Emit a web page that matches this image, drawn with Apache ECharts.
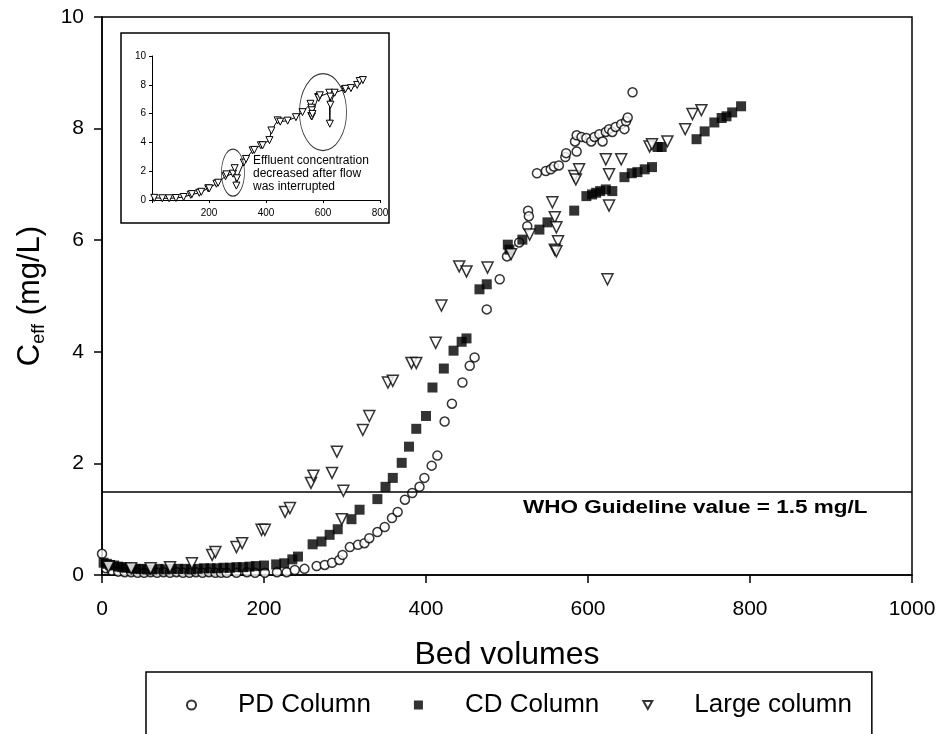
<!DOCTYPE html>
<html><head><meta charset="utf-8">
<script src="https://cdn.jsdelivr.net/npm/echarts@6/dist/echarts.min.js"></script>
<style>html,body{margin:0;padding:0;background:#fff}#c{width:945px;height:734px}</style>
</head><body><div id="c"></div>
<script>
// ---------- data ----------
const seriesNames = ['PD Column', 'CD Column', 'Large column'];
const xTicks = [0, 200, 400, 600, 800, 1000];
const yTicks = [0, 2, 4, 6, 8, 10];
const whoGuideline = 1.5;

const pdBV = [0,5,12,20,28,36,44,52,60,68,76,84,92,100,108,116,124,132,140,147,
  154,166,179,189,201,216,228,238,250,265,275,284,293,297,306,316,324,330,340,349,358,365,374,383,392,398,407,414,423,432,445,454,460,475,
  491,500,515,525,526,527,537,548,554,558,564,572,573,584,586,586,592,598,604,608,614,618,622,626,630,634,641,645,647,649,655];
const pdCeff = [0.38,0.12,0.08,0.06,0.05,0.05,0.04,0.04,0.05,0.04,0.05,0.04,0.05,0.04,0.04,0.05,0.04,0.05,0.04,0.04,
  0.04,0.04,0.05,0.04,0.04,0.05,0.05,0.09,0.11,0.16,0.18,0.22,0.27,0.36,0.50,0.54,0.57,0.66,0.77,0.86,1.02,1.13,1.35,1.47,1.58,1.74,1.96,2.14,2.75,3.07,3.45,3.75,3.90,4.76,
  5.30,5.71,5.96,6.25,6.53,6.43,7.20,7.24,7.27,7.32,7.34,7.49,7.56,7.77,7.59,7.88,7.85,7.83,7.77,7.85,7.90,7.77,7.94,7.99,7.94,8.03,8.08,7.99,8.13,8.20,8.65];

const cdBV = [2,6,10,15,20,25,30,36,42,48,55,62,70,78,86,94,102,110,118,126,134,142,150,158,166,174,182,190,200,215,225,235,242,
  260,271,281,291,308,318,340,350,359,370,379,388,400,408,422,434,444,450,466,475,
  501,503,519,540,550,583,598,605,610,615,622,630,645,654,661,670,679,686,691,734,744,756,765,771,778,789];
const cdCeff = [0.22,0.20,0.18,0.17,0.15,0.14,0.13,0.12,0.11,0.11,0.10,0.10,0.11,0.10,0.11,0.11,0.11,0.10,0.11,0.12,0.12,0.12,0.13,0.13,0.14,0.14,0.15,0.16,0.17,0.19,0.21,0.28,0.33,
  0.55,0.60,0.72,0.82,1.00,1.17,1.36,1.58,1.74,2.01,2.30,2.62,2.85,3.36,3.70,4.02,4.18,4.24,5.12,5.21,
  5.92,5.83,6.01,6.19,6.32,6.53,6.79,6.82,6.85,6.88,6.91,6.88,7.13,7.20,7.22,7.27,7.31,7.67,7.67,7.81,7.95,8.11,8.19,8.22,8.29,8.40];

const largeBV = [8,36,60,84,111,136,140,166,173,197,201,226,232,258,261,284,290,296,298,322,330,353,359,382,388,412,419,441,450,476,
  505,528,556,559,561,563,559,561,583,585,589,622,626,626,624,641,676,679,698,720,729,740];
const largeCeff = [0.15,0.12,0.12,0.14,0.21,0.36,0.41,0.50,0.57,0.81,0.81,1.13,1.20,1.65,1.78,1.83,2.21,1.00,1.51,2.60,2.85,3.45,3.48,3.80,3.80,4.16,4.83,5.53,5.44,5.51,
  5.75,6.10,6.68,6.41,6.23,5.98,5.83,5.80,7.15,7.09,7.27,7.45,7.18,6.62,5.30,7.45,7.68,7.72,7.77,7.99,8.26,8.33];

// inset annotations (ellipse centres in inset data units)
const insetXTicks = [0, 200, 400, 600, 800];
const insetYTicks = [0, 2, 4, 6, 8, 10];
const ellipseCentres = [[284, 1.9], [600, 6.1]];
const insetNote = ['Effluent concentration', 'decreased after flow', 'was interrupted'];

// ---------- build ----------
const zip = (xs, ys) => xs.map((x, i) => [x, ys[i]]);
const pd = zip(pdBV, pdCeff);
const cd = zip(cdBV, cdCeff);
const large = zip(largeBV, largeCeff);
const largeSorted = large.map((p, i) => [p, i]).sort((a, b) => a[0][0] - b[0][0] || a[1] - b[1]).map(p => p[0]);

const FONT = "'Liberation Sans', Arial, sans-serif";
const DOWN_TRIANGLE = 'path://M0,0L10,0L5,9Z';
const chart = echarts.init(document.getElementById('c'), null, {renderer: 'canvas'});
const plain = v => String(v);

const option = {
  animation: false,
  backgroundColor: '#fff',
  textStyle: {fontFamily: FONT, color: '#000'},
  grid: [
    {left: 102, top: 17, width: 810, height: 558, show: true, borderColor: '#000', borderWidth: 1.5, containLabel: false, outerBoundsMode: 'none'},
    {left: 152, top: 56, width: 228, height: 144, show: false, containLabel: false, outerBoundsMode: 'none'}
  ],
  xAxis: [
    {type: 'value', gridIndex: 0, min: xTicks[0], max: xTicks[xTicks.length - 1], interval: 200,
     name: 'Bed volumes', nameLocation: 'middle', nameGap: 64,
     nameTextStyle: {fontSize: 32, fontFamily: FONT, color: '#000'},
     axisLine: {show: true, onZero: false, lineStyle: {color: '#000', width: 1.5}},
     axisTick: {show: true, inside: false, length: 8, lineStyle: {color: '#000', width: 1.5}},
     axisLabel: {fontSize: 21, fontFamily: FONT, color: '#000', margin: 24, formatter: plain},
     splitLine: {show: false}},
    {type: 'value', gridIndex: 1, min: insetXTicks[0], max: insetXTicks[insetXTicks.length - 1], interval: 200,
     axisLine: {show: true, onZero: false, lineStyle: {color: '#000', width: 1}},
     axisTick: {show: true, length: 3, lineStyle: {color: '#000', width: 1}},
     axisLabel: {fontSize: 10, fontFamily: FONT, color: '#000', margin: 8, formatter: v => v === 0 ? '' : String(v)},
     splitLine: {show: false}}
  ],
  yAxis: [
    {type: 'value', gridIndex: 0, min: yTicks[0], max: yTicks[yTicks.length - 1], interval: 2,
     name: '{c|C}{s|eff}{c| (mg/L)}', nameLocation: 'middle', nameGap: 54,
     nameTextStyle: {rich: {
       c: {fontSize: 31, fontFamily: FONT, color: '#000', lineHeight: 36, verticalAlign: 'middle'},
       s: {fontSize: 18, fontFamily: FONT, color: '#000', lineHeight: 18, verticalAlign: 'bottom'}
     }},
     axisLine: {show: true, onZero: false, lineStyle: {color: '#000', width: 1.5}},
     axisTick: {show: true, inside: false, length: 8, lineStyle: {color: '#000', width: 1.5}},
     axisLabel: {fontSize: 21, fontFamily: FONT, color: '#000', margin: 18, formatter: plain},
     splitLine: {show: false}},
    {type: 'value', gridIndex: 1, min: insetYTicks[0], max: insetYTicks[insetYTicks.length - 1], interval: 2,
     axisLine: {show: true, onZero: false, lineStyle: {color: '#000', width: 1}},
     axisTick: {show: true, length: 3, lineStyle: {color: '#000', width: 1}},
     axisLabel: {fontSize: 10, fontFamily: FONT, color: '#000', margin: 6},
     splitLine: {show: false}}
  ],
  legend: {
    data: [
      {name: seriesNames[0], icon: 'circle'},
      {name: seriesNames[1], icon: 'rect'},
      {name: seriesNames[2], icon: DOWN_TRIANGLE}
    ],
    left: 146, top: 672,
    orient: 'horizontal',
    padding: [20, 20, 22, 40],
    itemWidth: 9, itemHeight: 9, itemGap: 43,
    borderColor: '#000', borderWidth: 1.5, borderRadius: 0,
    formatter: name => '{g|}' + name,
    textStyle: {fontSize: 26, fontFamily: FONT, color: '#000', rich: {g: {width: 37}}},
    selectedMode: false
  },
  graphic: [
    {type: 'rect', z: 0, shape: {x: 121, y: 33, width: 268, height: 190},
     style: {fill: '#fff', stroke: '#000', lineWidth: 1.5}},
    {type: 'text', z: 10, x: 523, y: 499, scaleX: 1.25, scaleY: 1,
     style: {text: 'WHO Guideline value = 1.5 mg/L', font: 'bold 18px ' + FONT, fill: '#000'}},
    {type: 'text', z: 10, x: 253, y: 154,
     style: {text: insetNote.join('\n'), font: '12px ' + FONT, fill: '#000', lineHeight: 13}}
  ],
  series: [
    {name: seriesNames[0], type: 'scatter', xAxisIndex: 0, yAxisIndex: 0, data: pd, z: 3,
     symbol: 'circle', symbolSize: 9,
     itemStyle: {color: '#fff', borderColor: '#000', borderWidth: 1.5},
     markLine: {silent: true, symbol: 'none', label: {show: false},
       lineStyle: {color: '#000', width: 1.5, type: 'solid'},
       data: [{yAxis: whoGuideline}]}},
    {name: seriesNames[1], type: 'scatter', xAxisIndex: 0, yAxisIndex: 0, data: cd, z: 4,
     symbol: 'rect', symbolSize: 10,
     itemStyle: {color: '#000', borderColor: '#000', borderWidth: 0}},
    {name: seriesNames[2], type: 'scatter', xAxisIndex: 0, yAxisIndex: 0, data: large, z: 5,
     symbol: 'triangle', symbolRotate: 180, symbolSize: 11,
     itemStyle: {color: '#fff', borderColor: '#000', borderWidth: 1.5}},
    {name: 'inset', type: 'line', xAxisIndex: 1, yAxisIndex: 1, data: largeSorted, z: 6,
     symbol: 'triangle', symbolRotate: 180, symbolSize: 7,
     lineStyle: {color: '#000', width: 1},
     itemStyle: {color: '#fff', borderColor: '#000', borderWidth: 1}},
    {name: 'insetEllipse', type: 'scatter', xAxisIndex: 1, yAxisIndex: 1, data: ellipseCentres, z: 6,
     symbol: 'circle', symbolSize: (v, p) => p.dataIndex === 0 ? [23, 47] : [47, 77],
     itemStyle: {color: 'rgba(0,0,0,0)', borderColor: '#000', borderWidth: 1}}
  ]
};
chart.setOption(option);
</script>
</body></html>
